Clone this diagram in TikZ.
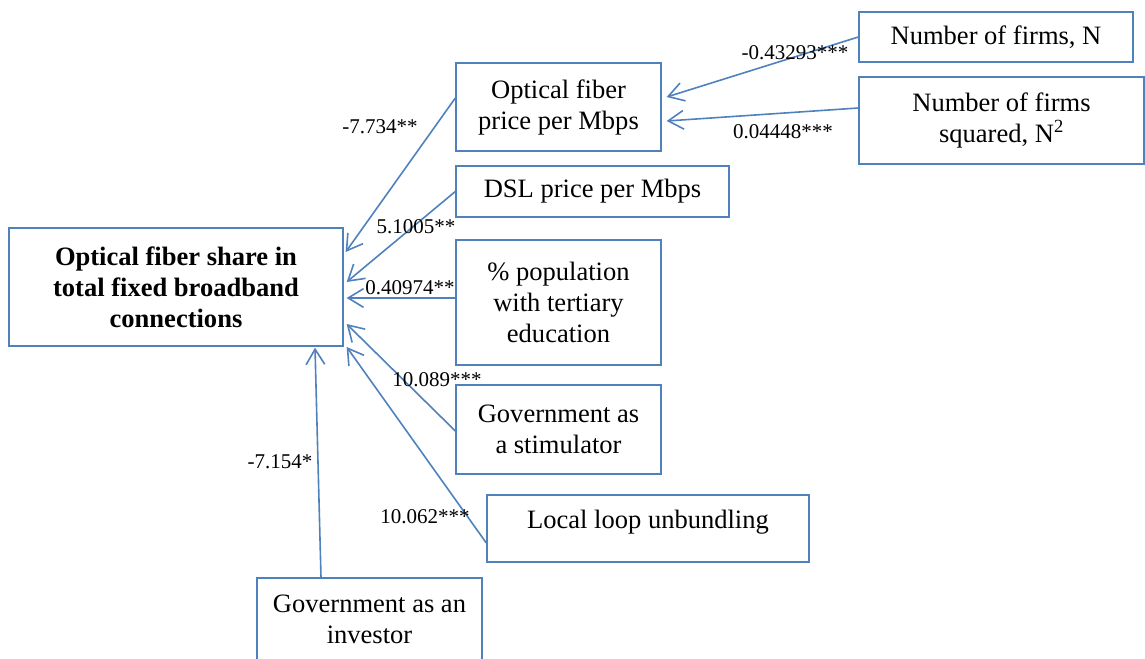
\documentclass[tikz,border=0pt]{standalone}
\usepackage{fontspec}
\setmainfont{Liberation Serif}
\usetikzlibrary{arrows.meta}
\definecolor{lineblue}{RGB}{79,129,189}
\begin{document}
\begin{tikzpicture}[x=0.75pt,y=-0.75pt,
  box/.style={draw=lineblue,line width=1pt,align=center,inner sep=0pt,
    font=\fontsize{19.9}{23.25}\selectfont},
  coef/.style={inner sep=0pt,font=\fontsize{15.75}{18}\selectfont},
  link/.style={draw=lineblue,line width=1.2pt,-{Straight Barb[length=11.5pt,width=14pt]}}]
\useasboundingbox (0,0) rectangle (1145,659);
% boxes
\node[box,minimum width=250.5pt,minimum height=88.5pt,font=\fontsize{19.9}{23.25}\selectfont\bfseries] (main) at (176,287) {Optical fiber share in\\total fixed broadband\\connections};
\node[box,minimum width=153.75pt,minimum height=66pt] (opt) at (558.5,107) {Optical fiber\\price per Mbps};
\node[box,minimum width=204.75pt,minimum height=38.25pt] (dsl) at (592.5,191.5) {DSL price per Mbps};
\node[box,minimum width=153.75pt,minimum height=93.75pt] (pop) at (558.5,302.5) {\% population\\with tertiary\\education};
\node[box,minimum width=153.75pt,minimum height=66.75pt] (stim) at (558.5,429.5) {Government as\\a stimulator};
\node[box,minimum width=241.5pt,minimum height=50.25pt,text depth=13.4pt] (llu) at (648,528.5) {Local loop unbundling};
\node[box,minimum width=168.75pt,minimum height=62.25pt] (inv) at (369.5,619.5) {Government as an\\investor};
\node[box,minimum width=205.5pt,minimum height=37.5pt] (nf) at (996,37) {Number of firms, N};
\node[box,minimum width=213.75pt,minimum height=65.25pt] (nf2) at (1001.5,120.5) {Number of firms\\squared, N\textsuperscript{2}};
% connectors
\draw[link] (nf.west) -- ([shift={(5,-10)}]opt.east);
\draw[link] ([shift={(0,-12.5)}]nf2.west) -- ([shift={(5,14)}]opt.east);
\draw[link] ([shift={(0,-9)}]opt.west) -- ([shift={(2,-35)}]main.east);
\draw[link] (dsl.west) -- ([shift={(3,-5)}]main.east);
\draw[link] ([shift={(0,-4.5)}]pop.west) -- ([shift={(3,11)}]main.east);
\draw[link] ([shift={(0,1.5)}]stim.west) -- ([shift={(3,37)}]main.east);
\draw[link] ([shift={(0,14.5)}]llu.west) -- ([shift={(3,60)}]main.east);
\draw[link] ([shift={(-48.5,0)}]inv.north) -- ([shift={(139,1)}]main.south);
% coefficients
\node[coef] (c1) at (795,53) {-0.43293***};
\node[coef] (c2) at (783,132) {0.04448***};
\node[coef] (c3) at (380,127) {-7.734**};
\node[coef] (c4) at (416,227) {5.1005**};
\node[coef] (c5) at (410,288) {0.40974**};
\node[coef] (c6) at (437,380) {10.089***};
\node[coef] (c7) at (425,517) {10.062***};
\node[coef] (c8) at (280,462) {-7.154*};
\end{tikzpicture}
\end{document}
